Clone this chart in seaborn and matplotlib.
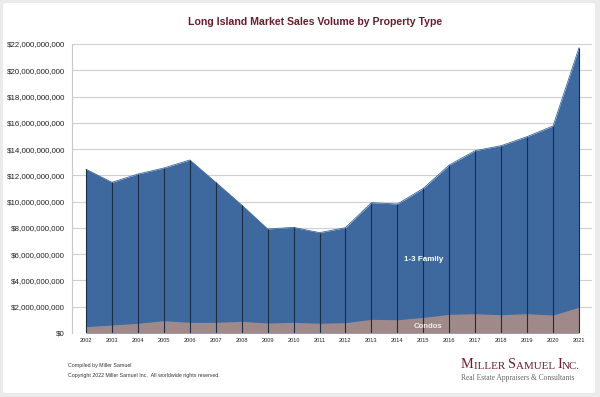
import matplotlib
matplotlib.use("Agg")
import matplotlib.pyplot as plt
import seaborn as sns
import pandas as pd
import numpy as np
from matplotlib.patches import FancyBboxPatch
from matplotlib.ticker import FuncFormatter

years = [str(y) for y in range(2002, 2022)]
family_1_3 = [12.46, 11.47, 12.10, 12.56, 13.17, 11.47, 9.74, 7.92, 8.04, 7.64,
              8.02, 9.92, 9.82, 11.01, 12.79, 13.88, 14.26, 14.95, 15.76, 21.72]  # $B, top of stack
condos = [0.48, 0.61, 0.74, 0.94, 0.81, 0.81, 0.89, 0.76, 0.81, 0.74,
          0.79, 1.04, 1.01, 1.19, 1.42, 1.47, 1.39, 1.47, 1.37, 1.96]  # $B
yticks = [0, 2, 4, 6, 8, 10, 12, 14, 16, 18, 20, 22]  # $B

df = pd.DataFrame({"year": years,
                   "family": np.array(family_1_3) * 1e9,
                   "condos": np.array(condos) * 1e9})
df["x"] = np.arange(len(years))

sns.set_theme(style="white")
plt.rcParams['font.family'] = ['Liberation Sans', 'DejaVu Sans']

fig = plt.figure(figsize=(6.0, 3.97), dpi=100)
fig.patch.set_facecolor("#ebebeb")
panel = FancyBboxPatch((3/600, 4/397), 592/600, 390/397,
                       boxstyle="round,pad=0,rounding_size=0.006",
                       transform=fig.transFigure, facecolor="white",
                       edgecolor="none", zorder=-10)
fig.patches.append(panel)

ax = fig.add_axes([72/600, 1 - 333/397, 520/600, 289/397])
ax.set_zorder(1)
ax.set_facecolor("none")

blue = "#3d699f"
mauve = "#9f8a89"
ax.fill_between(df["x"], 0, df["family"], color=blue, linewidth=0, zorder=2)
ax.fill_between(df["x"], 0, df["condos"], color=mauve, linewidth=0, zorder=3)
ax.vlines(df["x"], 0, df["family"], color="#1c2d48", linewidth=0.8, zorder=4)
sns.lineplot(x=df["x"], y=df["family"], ax=ax, color=blue, linewidth=0.6, zorder=2)

ax.set_xlim(-0.54, 19.5)
ax.set_ylim(0, 22e9)
ax.set_yticks(np.array(yticks) * 1e9)
ax.yaxis.set_major_formatter(FuncFormatter(lambda v, p: "${:,.0f}".format(v)))
ax.set_xticks(df["x"])
ax.set_xticklabels(years)
ax.tick_params(axis="y", labelsize=5.7, length=0, pad=5, colors="#222222")
ax.tick_params(axis="x", labelsize=4.1, length=0, pad=3.5, colors="#222222")
ax.grid(axis="y", color="#cfcfcf", linewidth=0.8, zorder=1)
ax.set_axisbelow(True)
for s in ["top", "right", "bottom"]:
    ax.spines[s].set_visible(False)
ax.spines["left"].set_color("#c8c8c8")
ax.spines["left"].set_linewidth(0.8)
ax.set_xlabel("")
ax.set_ylabel("")

fig.text(315.5/600, 1 - 22/397, "Long Island Market Sales Volume by Property Type",
         ha="center", va="center", fontsize=7.6, fontweight="bold", color="#6b1c2c")

ax.text(13.0, 5.63e9, "1-3 Family", ha="center", va="center", fontsize=5.8,
        fontweight="bold", color="white", zorder=6)
ax.text(13.17, 0.5e9, "Condos", ha="center", va="center", fontsize=5.6,
        fontweight="bold", color="#eeeeee", zorder=6)

fig.text(68/600, 1 - 365/397, "Compiled by Miller Samuel", ha="left", va="center",
         fontsize=3.8, color="#333333")
fig.text(68/600, 1 - 376/397,
         "Copyright 2022 Miller Samuel Inc.  All worldwide rights reserved.",
         ha="left", va="center", fontsize=3.8, color="#333333")

# Logo in small caps
red = "#6b1c2c"
big, small = 10.4, 7.9
serif = ['Liberation Serif', 'DejaVu Serif']
pieces = [("M", big), ("ILLER ", small), ("S", big), ("AMUEL ", small),
          ("I", big), ("NC.", small)]
prev = fig.text(461/600, 1 - 368/397, pieces[0][0], ha="left", va="baseline",
                fontsize=pieces[0][1], color=red, family=serif)
for txt, sz in pieces[1:]:
    prev = ax.annotate(txt, xy=(1, 0), xycoords=prev, xytext=(0, 0),
                       textcoords="offset points", ha="left", va="bottom",
                       fontsize=sz, color=red, family=serif,
                       annotation_clip=False, clip_on=False)
fig.text(461/600, 1 - 380/397, "Real Estate Appraisers & Consultants", ha="left",
         va="baseline", fontsize=5.45, color="#666666", family=serif)

fig.savefig("out.png", dpi=100, facecolor=fig.get_facecolor())
